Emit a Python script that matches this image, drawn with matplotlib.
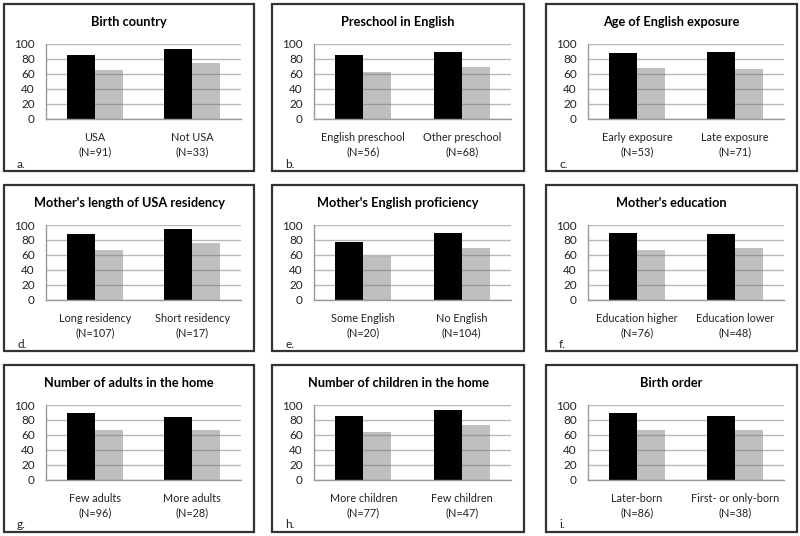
import matplotlib
matplotlib.use("Agg")
import matplotlib.pyplot as plt
from matplotlib.patches import Rectangle
import numpy as np

plt.rcParams['font.family'] = ['Lato', 'DejaVu Sans']

titles = ["Birth country", "Preschool in English", "Age of English exposure",
          "Mother's length of USA residency", "Mother's English proficiency", "Mother's education",
          "Number of adults in the home", "Number of children in the home", "Birth order"]
categories = [["USA", "Not USA"], ["English preschool", "Other preschool"],
              ["Early exposure", "Late exposure"], ["Long residency", "Short residency"],
              ["Some English", "No English"], ["Education higher", "Education lower"],
              ["Few adults", "More adults"], ["More children", "Few children"],
              ["Later-born", "First- or only-born"]]
sample_sizes = [[91, 33], [56, 68], [53, 71], [107, 17], [20, 104], [76, 48],
                [96, 28], [77, 47], [86, 38]]
black_values = [[85.7, 93.7], [85.7, 88.8], [87.9, 88.8], [87.6, 94.7], [76.8, 89.7],
                [88.8, 87.4], [89.3, 84.4], [85.3, 93.3], [89.7, 85.3]]
gray_values = [[64.7, 74.1], [62.5, 69.6], [67.4, 66.5], [66.4, 76.1], [58.0, 68.7],
               [65.9, 69.0], [67.0, 67.0], [64.3, 73.7], [67.0, 67.0]]
panel_letters = ["a.", "b.", "c.", "d.", "e.", "f.", "g.", "h.", "i."]
y_ticks = [0, 20, 40, 60, 80, 100]

W, H = 800, 536
fig = plt.figure(figsize=(W / 100, H / 100), dpi=100)

col_left = [4, 272, 546]
col_right = [254, 524, 797]
row_top = [4, 185, 365]
row_bottom = [171, 351, 532]


def fx(px):
    return px / W


def fy(py):
    return 1 - py / H


for i in range(9):
    r, c = divmod(i, 3)
    bl, br, bt, bb = col_left[c], col_right[c], row_top[r], row_bottom[r]
    # panel border
    fig.patches.append(Rectangle((fx(bl), fy(bb)), fx(br - bl), (bb - bt) / H,
                                 transform=fig.transFigure, fill=False,
                                 edgecolor='#333333', linewidth=1.6, zorder=0))
    # plot area
    al, ar, at, ab = bl + 42, br - 13, bt + 40, bt + 114.5
    ax = fig.add_axes([fx(al), fy(ab), fx(ar - al), (ab - at) / H])
    x = np.arange(2)
    bw = 1 / 3.5
    ax.set_axisbelow(True)
    ax.yaxis.grid(True, color='#b8b8b8', linewidth=1.0, zorder=0)
    ax.bar(x - bw / 2, black_values[i], width=bw, color='black', zorder=2)
    ax.bar(x + bw / 2, gray_values[i], width=bw, color=(0.45, 0.45, 0.45, 0.45),
           linewidth=0, zorder=2)
    ax.set_xlim(-0.5, 1.5)
    ax.set_ylim(0, 100)
    ax.set_yticks(y_ticks)
    ax.set_yticklabels([str(t) for t in y_ticks], fontsize=8.5, color='#222222')
    ax.set_xticks(x)
    ax.set_xticklabels([f"{cat}\n(N={n})" for cat, n in zip(categories[i], sample_sizes[i])],
                       fontsize=7.8, color='#222222', linespacing=1.35)
    ax.tick_params(axis='x', length=0, pad=10)
    ax.tick_params(axis='y', length=0, pad=8)
    for s in ['top', 'right']:
        ax.spines[s].set_visible(False)
    for s in ['left', 'bottom']:
        ax.spines[s].set_color('#9a9a9a')
        ax.spines[s].set_linewidth(1.0)
    ax.set_facecolor('none')
    # title
    fig.text(fx((bl + br) / 2), fy(bt + 18), titles[i], ha='center', va='center',
             fontsize=9.2, fontweight='bold', color='black')
    # letter
    fig.text(fx(bl + 13), fy(bt + 160), panel_letters[i], ha='left', va='center',
             fontsize=8.5, color='#222222')

fig.savefig("out.png", dpi=100)
